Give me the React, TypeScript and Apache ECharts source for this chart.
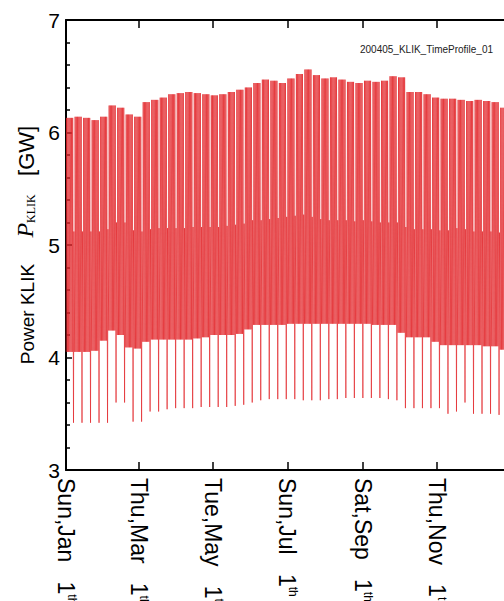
import React, { useEffect, useRef } from "react";
import * as echarts from "echarts";

// Weekly envelope values (GW), one entry per week starting Jan 1
const weekdayPeak = [
  6.13, 6.14, 6.13, 6.11, 6.14, 6.24, 6.22, 6.16, 6.14, 6.27,
  6.29, 6.31, 6.34, 6.35, 6.36, 6.35, 6.34, 6.33, 6.34, 6.36,
  6.38, 6.40, 6.44, 6.47, 6.46, 6.44, 6.48, 6.52, 6.56, 6.51,
  6.48, 6.49, 6.47, 6.45, 6.44, 6.46, 6.45, 6.46, 6.50, 6.49,
  6.36, 6.36, 6.34, 6.31, 6.30, 6.30, 6.29, 6.28, 6.29, 6.28,
  6.27, 6.22, 6.15,
];
const weekdayTrough = [
  4.05, 4.05, 4.05, 4.06, 4.15, 4.24, 4.20, 4.09, 4.08, 4.14,
  4.16, 4.16, 4.16, 4.16, 4.16, 4.17, 4.18, 4.20, 4.20, 4.20,
  4.21, 4.25, 4.29, 4.29, 4.29, 4.29, 4.30, 4.30, 4.30, 4.30,
  4.30, 4.30, 4.30, 4.30, 4.30, 4.30, 4.29, 4.29, 4.29, 4.22,
  4.18, 4.18, 4.18, 4.14, 4.11, 4.11, 4.11, 4.11, 4.11, 4.10,
  4.10, 4.07, 4.05,
];
const weekendPeak = [
  5.12, 5.12, 5.12, 5.12, 5.14, 5.20, 5.20, 5.13, 5.12, 5.14,
  5.15, 5.15, 5.15, 5.15, 5.16, 5.16, 5.16, 5.16, 5.17, 5.18,
  5.19, 5.22, 5.22, 5.23, 5.24, 5.25, 5.26, 5.27, 5.25, 5.23,
  5.22, 5.22, 5.22, 5.21, 5.22, 5.21, 5.20, 5.20, 5.20, 5.16,
  5.14, 5.14, 5.14, 5.13, 5.13, 5.15, 5.14, 5.12, 5.12, 5.12,
  5.11, 5.10, 5.08,
];
const weekendTrough = [
  3.42, 3.42, 3.42, 3.42, 3.42, 3.60, 3.60, 3.43, 3.43, 3.52,
  3.52, 3.54, 3.55, 3.55, 3.55, 3.56, 3.56, 3.56, 3.56, 3.57,
  3.58, 3.60, 3.62, 3.63, 3.63, 3.63, 3.63, 3.62, 3.62, 3.62,
  3.63, 3.63, 3.64, 3.64, 3.64, 3.64, 3.64, 3.63, 3.62, 3.55,
  3.55, 3.55, 3.55, 3.55, 3.50, 3.52, 3.60, 3.50, 3.50, 3.50,
  3.49, 3.48, 3.47,
];

const daysInYear = 366;
const tickDays = [0, 60, 121, 182, 244, 305];
const tickWeekdayMonth = ["Sun,Jan", "Thu,Mar", "Tue,May", "Sun,Jul", "Sat,Sep", "Thu,Nov"];
const tickDayOfMonth = ["1", "1", "1", "1", "1", "1"];
const tickSuffix = "th";
const yMin = 3;
const yMax = 7;
const chartTitle = "200405_KLIK_TimeProfile_01";

function buildSeries(): number[][] {
  const pts: number[][] = [];
  for (let d = 0; d < daysInYear; d++) {
    const w = Math.floor(d / 7);
    const isLowDay = d % 7 === 6;
    const lo = isLowDay ? weekendTrough[w] : weekdayTrough[w];
    const hi = isLowDay ? weekendPeak[w] : weekdayPeak[w];
    pts.push([d + 0.17, lo]);
    pts.push([d + 0.5, hi]);
  }
  return pts;
}

export default function App() {
  const ref = useRef<HTMLDivElement>(null);
  useEffect(() => {
    if (!ref.current) return;
    const chart = echarts.init(ref.current, undefined, { renderer: "svg" });
    const sans = "Liberation Sans, Arial, sans-serif";
    const serif = "Liberation Serif, Times New Roman, serif";
    const tickCommon = {
      show: true,
      inside: true,
      length: 8,
      customValues: tickDays,
      lineStyle: { color: "#000", width: 1.5 },
    };
    chart.setOption({
      animation: false,
      backgroundColor: "#fff",
      title: {
        text: chartTitle,
        left: 355,
        top: 39,
        textStyle: { fontSize: 10, fontWeight: "normal", color: "#222", fontFamily: sans },
      },
      grid: { left: 66, top: 20, right: 1, bottom: 131, outerBoundsMode: "none", containLabel: false },
      xAxis: [
        {
          type: "value",
          position: "bottom",
          min: 0,
          max: daysInYear,
          axisLine: { show: true, onZero: false, lineStyle: { color: "#000", width: 2 } },
          axisTick: tickCommon,
          splitLine: { show: false },
          axisLabel: {
            show: true,
            customValues: tickDays,
            rotate: -90,
            margin: 8,
            color: "#000",
            fontFamily: sans,
            fontSize: 23,
            formatter: (val: number) => {
              const i = tickDays.indexOf(Math.round(val));
              if (i < 0) return "";
              return `{a|${tickWeekdayMonth[i]}   ${tickDayOfMonth[i]}}{s|${tickSuffix}}`;
            },
            rich: {
              a: { fontSize: 23, fontFamily: sans, color: "#000" },
              s: { fontSize: 12, fontFamily: sans, color: "#000", verticalAlign: "top" },
            },
          },
        },
        {
          type: "value",
          position: "top",
          min: 0,
          max: daysInYear,
          axisLine: { show: true, onZero: false, lineStyle: { color: "#000", width: 2 } },
          axisTick: tickCommon,
          axisLabel: { show: false },
          splitLine: { show: false },
        },
      ],
      yAxis: {
        type: "value",
        min: yMin,
        max: yMax,
        interval: 1,
        axisLine: { show: true, lineStyle: { color: "#000", width: 2 } },
        axisTick: { show: true, inside: true, length: 6, lineStyle: { color: "#000", width: 1.5 } },
        minorTick: { show: true, splitNumber: 5, length: 4, lineStyle: { color: "#000", width: 1.5 } },
        splitLine: { show: false },
        axisLabel: { color: "#000", fontSize: 21, fontFamily: sans, margin: 6 },
        name: "{a|Power KLIK     }{p|P}{k|KLIK}{g|   [GW]}",
        nameLocation: "middle",
        nameRotate: 90,
        nameGap: 27,
        nameTextStyle: {
          rich: {
            a: { fontSize: 19, fontFamily: sans, color: "#000", verticalAlign: "bottom" },
            p: { fontSize: 24, fontFamily: serif, fontStyle: "italic", color: "#000", verticalAlign: "bottom" },
            k: { fontSize: 12, fontFamily: serif, color: "#000", verticalAlign: "bottom" },
            g: { fontSize: 22, fontFamily: sans, color: "#000", verticalAlign: "bottom" },
          },
        },
      },
      series: [
        {
          type: "line",
          xAxisIndex: 0,
          data: buildSeries(),
          showSymbol: false,
          symbol: "none",
          lineStyle: { color: "#e3262b", width: 0.9, opacity: 0.78 },
          z: 1,
        },
      ],
    });
    return () => chart.dispose();
  }, []);
  return (
    <div style={{ position: "absolute", left: 0, top: 0, width: 504, height: 601, overflow: "hidden", background: "#fff" }}>
      <div ref={ref} style={{ width: 512, height: 601 }} />
    </div>
  );
}
